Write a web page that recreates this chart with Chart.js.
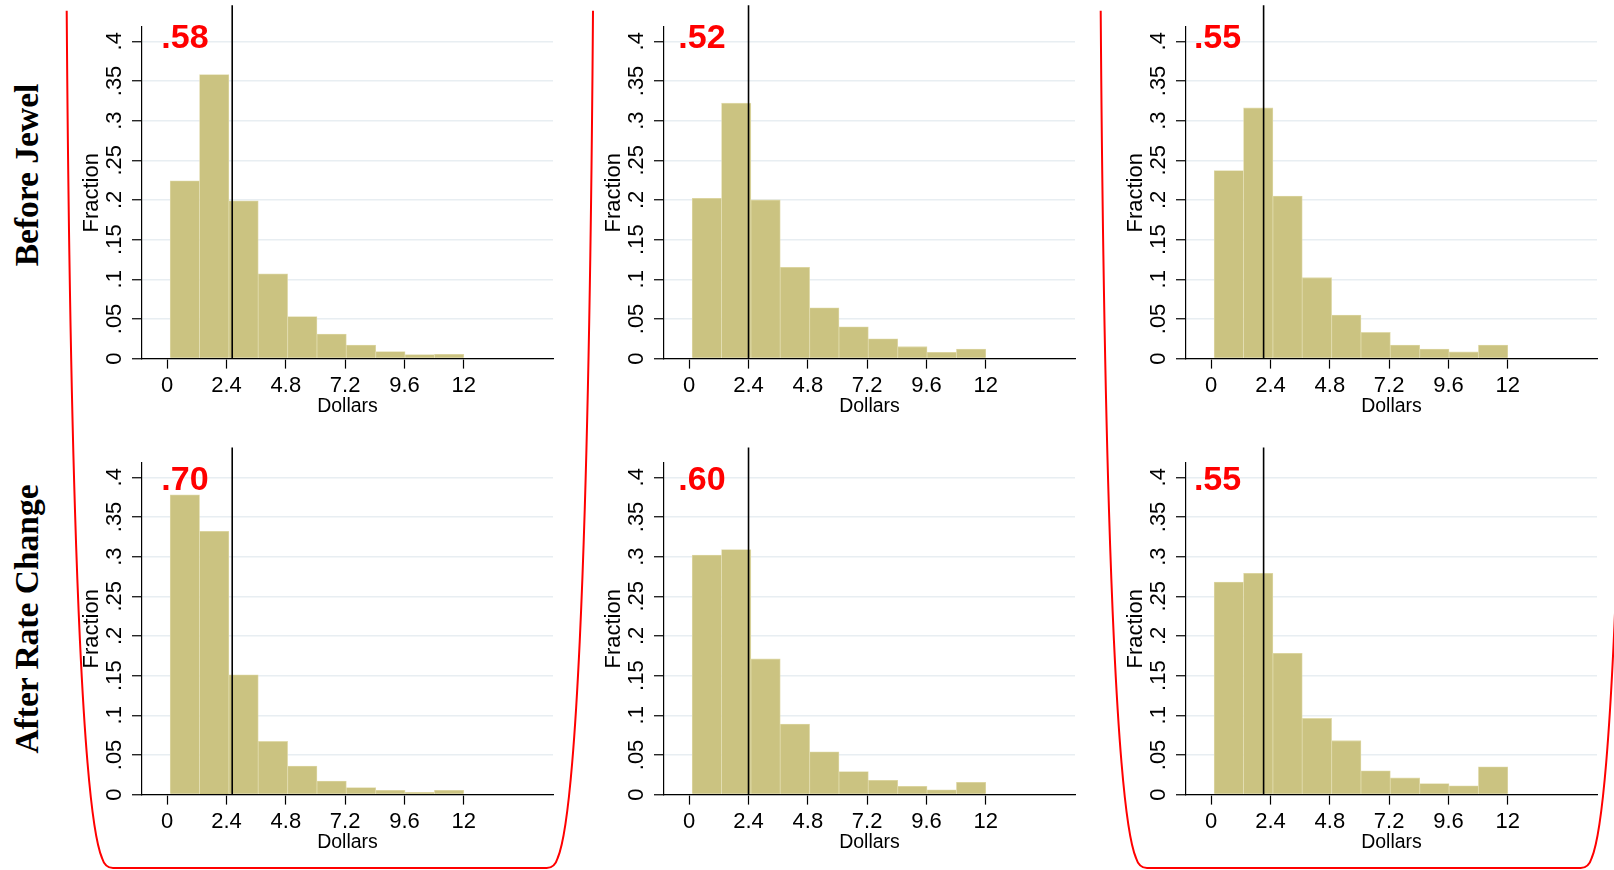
<!DOCTYPE html>
<html>
<head>
<meta charset="utf-8">
<script src="https://cdn.jsdelivr.net/npm/chart.js@4.4.1/dist/chart.umd.min.js"></script>
<style>
    html, body { margin: 0; padding: 0; background: #fff; }
    #page { position: relative; width: 1614px; height: 870px; overflow: hidden; background: #fff; }
    #page canvas { position: absolute; }
    #overlay { position: absolute; left: 0; top: 0; pointer-events: none; }
</style>
</head>
<body>
<div id="page">
    <svg id="overlay" width="1614" height="870"></svg>
</div>
<script>
// Data
const binCenters = [0.714, 1.902, 3.09, 4.278, 5.466, 6.654, 7.842, 9.03, 10.218, 11.406];
const xTicks = [0, 2.4, 4.8, 7.2, 9.6, 12];
const xTickLabels = ['0', '2.4', '4.8', '7.2', '9.6', '12'];
const yTicks = [0, 0.05, 0.1, 0.15, 0.2, 0.25, 0.3, 0.35, 0.4];
const yTickLabels = ['0', '.05', '.1', '.15', '.2', '.25', '.3', '.35', '.4'];
const rowLabels = ['Before Jewel', 'After Rate Change'];

const before1 = [0.224, 0.358, 0.199, 0.107, 0.053, 0.031, 0.017, 0.009, 0.005, 0.0055];
const before2 = [0.202, 0.322, 0.200, 0.115, 0.064, 0.040, 0.025, 0.015, 0.008, 0.012];
const before3 = [0.237, 0.316, 0.205, 0.102, 0.055, 0.033, 0.017, 0.012, 0.0084, 0.017];
const after1 = [0.378, 0.332, 0.151, 0.067, 0.036, 0.017, 0.009, 0.0055, 0.003, 0.0055];
const after2 = [0.302, 0.309, 0.171, 0.089, 0.054, 0.029, 0.018, 0.0105, 0.006, 0.0156];
const after3 = [0.268, 0.279, 0.178, 0.096, 0.068, 0.030, 0.021, 0.014, 0.011, 0.035];

const shareLabels = [['.58', '.52', '.55'], ['.70', '.60', '.55']];
const refLines = [2.63, 2.4, 2.12];

const series = [[before1, before2, before3], [after1, after2, after3]];

// Layout
const colLeft = [78, 600, 1122];
const rowTop = [-1, 435];
const canvasW = 483;
const canvasH = 423;
const lineTops = [0.4455, 0.4376];
const labelY = [0.392, 0.384];
const labelX = [-0.24, -0.44, -0.7];

const sans = '"Liberation Sans", Arial, sans-serif';
Chart.defaults.font.family = sans;
Chart.defaults.color = '#000';

// vertical reference line and red share label
const panelMarks = {
    id: 'panelMarks',
    afterDraw(chart, args, opts) {
        const { ctx, scales: { x, y } } = chart;
        const px = x.getPixelForValue(opts.lineX);
        ctx.save();
        ctx.strokeStyle = '#000';
        ctx.lineWidth = 1.6;
        ctx.beginPath();
        ctx.moveTo(px, y.getPixelForValue(0));
        ctx.lineTo(px, y.getPixelForValue(opts.lineTop));
        ctx.stroke();
        ctx.fillStyle = '#ff0000';
        ctx.font = 'bold 34px ' + sans;
        ctx.textAlign = 'left';
        ctx.textBaseline = 'alphabetic';
        ctx.fillText(opts.text, x.getPixelForValue(opts.textX), y.getPixelForValue(opts.textY));
        ctx.restore();
    }
};

const page = document.getElementById('page');

function makePanel(r, c) {
    const canvas = document.createElement('canvas');
    canvas.width = canvasW;
    canvas.height = canvasH;
    canvas.style.left = colLeft[c] + 'px';
    canvas.style.top = rowTop[r] + 'px';
    page.appendChild(canvas);

    new Chart(canvas.getContext('2d'), {
        type: 'bar',
        data: {
            datasets: [{
                data: series[r][c].map((v, i) => ({ x: binCenters[i], y: v })),
                backgroundColor: '#cbc381',
                borderColor: '#e0daaa',
                borderWidth: 0.8,
                barPercentage: 1,
                categoryPercentage: 1
            }]
        },
        options: {
            responsive: false,
            animation: false,
            layout: { padding: { top: 28, right: 8, bottom: 4, left: 0 } },
            plugins: {
                legend: { display: false },
                tooltip: { enabled: false },
                panelMarks: {
                    lineX: refLines[c],
                    lineTop: lineTops[r],
                    text: shareLabels[r][c],
                    textX: labelX[c],
                    textY: labelY[r]
                }
            },
            scales: {
                x: {
                    type: 'linear',
                    min: -1.02,
                    max: 15.61,
                    offset: false,
                    afterBuildTicks: (s) => { s.ticks = xTicks.map(v => ({ value: v })); },
                    afterFit: (s) => { s.height = 59.4; },
                    ticks: {
                        autoSkip: false,
                        maxRotation: 0,
                        padding: 4,
                        font: { size: 22 },
                        callback: (v, i) => xTickLabels[i]
                    },
                    grid: {
                        offset: false,
                        drawOnChartArea: false,
                        drawTicks: true,
                        tickLength: 10,
                        tickColor: '#000',
                        tickWidth: 1.2
                    },
                    border: { display: true, color: '#000', width: 1.2, z: 1 },
                    title: {
                        display: true,
                        text: 'Dollars',
                        font: { size: 19.5 },
                        padding: 0
                    }
                },
                y: {
                    min: 0,
                    max: 0.418,
                    afterBuildTicks: (s) => { s.ticks = yTicks.map(v => ({ value: v })); },
                    afterFit: (s) => { s.width = 64; },
                    ticks: {
                        autoSkip: false,
                        minRotation: 90,
                        maxRotation: 90,
                        crossAlign: 'center',
                        padding: 1.5,
                        font: { size: 22 },
                        callback: (v, i) => yTickLabels[i]
                    },
                    grid: {
                        color: '#e8eef2',
                        lineWidth: 1.5,
                        tickLength: 10,
                        tickColor: '#000',
                        tickWidth: 1.2
                    },
                    border: { display: true, color: '#000', width: 1.2 },
                    title: {
                        display: true,
                        text: 'Fraction',
                        font: { size: 22 },
                        padding: { top: 0.5, bottom: 0 }
                    }
                }
            }
        },
        plugins: [panelMarks]
    });
}

for (let r = 0; r < 2; r++) {
    for (let c = 0; c < 3; c++) {
        makePanel(r, c);
    }
}

// Row labels and red frames
const svg = document.getElementById('overlay');
const NS = 'http://www.w3.org/2000/svg';
const rowLabelY = [175, 619];
rowLabels.forEach((txt, i) => {
    const t = document.createElementNS(NS, 'text');
    t.setAttribute('transform', `translate(38.3,${rowLabelY[i]}) rotate(-90)`);
    t.setAttribute('text-anchor', 'middle');
    t.setAttribute('font-family', '"Liberation Serif", "Times New Roman", serif');
    t.setAttribute('font-weight', 'bold');
    t.setAttribute('font-size', '33.5');
    t.setAttribute('fill', '#000');
    t.textContent = txt;
    svg.appendChild(t);
});

function framePath(dx) {
    const L = (x) => (x + dx).toFixed(1);
    const R = (x) => (659.7 - x + dx).toFixed(1);
    return `M ${L(66.7)} 10.7 C ${L(71)} 600, ${L(86)} 820, ${L(102)} 858 ` +
        `Q ${L(105)} 868, ${L(113)} 868 L ${R(113)} 868 ` +
        `Q ${R(105)} 868, ${R(102)} 858 C ${R(86)} 820, ${R(71)} 600, ${R(66.7)} 10.7`;
}
[0, 1034].forEach(dx => {
    const p = document.createElementNS(NS, 'path');
    p.setAttribute('d', framePath(dx));
    p.setAttribute('fill', 'none');
    p.setAttribute('stroke', '#ff0000');
    p.setAttribute('stroke-width', '2');
    svg.appendChild(p);
});
</script>
</body>
</html>
